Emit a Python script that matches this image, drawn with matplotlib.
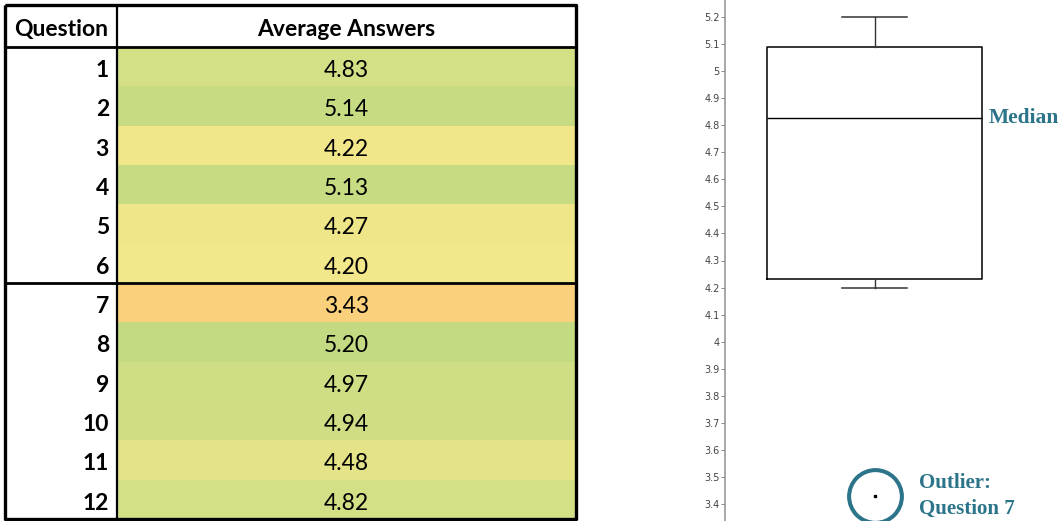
import numpy as np
import matplotlib.pyplot as plt
from matplotlib.colors import LinearSegmentedColormap
from matplotlib.ticker import FixedLocator, FuncFormatter

questions = [1, 2, 3, 4, 5, 6, 7, 8, 9, 10, 11, 12]
averages = [4.83, 5.14, 4.22, 5.13, 4.27, 4.20, 3.43, 5.20, 4.97, 4.94, 4.48, 4.82]
outlier_question = 7
header = ["Question", "Average Answers"]

TEAL = "#2B7489"
W, H = 1064, 521

fig = plt.figure(figsize=(W / 100, H / 100), dpi=100)

# ---- table of averages with a colour scale ----
cmap = LinearSegmentedColormap.from_list(
    "scale", [(0.0, "#FBD07C"), ((4.20 - 3.43) / (5.20 - 3.43), "#F2E78A"), (1.0, "#C4DA82")])
vmin, vmax = min(averages), max(averages)

tab = fig.add_axes([5 / W, 1 - 519 / H, (576 - 5) / W, (519 - 5) / H])
hdr_h = 42 / 39.33
tab.set_xlim(0, 1)
tab.set_ylim(len(questions), -hdr_h)
tab.axis("off")
div = (117 - 5) / 571

rows = np.arange(len(questions))
colors = [cmap((v - vmin) / (vmax - vmin)) for v in averages]
tab.barh(rows + 0.5, 1 - div, height=1, left=div, color=colors, linewidth=0)

font = "Lato"
fs = 16.5
tab.text(div / 2, -hdr_h / 2 + 0.1, header[0], ha="center", va="center",
         fontsize=fs, fontweight="bold", family=font)
tab.text(div + (1 - div) / 2, -hdr_h / 2 + 0.1, header[1], ha="center", va="center",
         fontsize=fs, fontweight="bold", family=font)
for i, (q, v) in enumerate(zip(questions, averages)):
    tab.text(div - 0.014, i + 0.6, str(q), ha="right", va="center",
             fontsize=fs, fontweight="bold", family=font)
    tab.text(div + (1 - div) / 2, i + 0.6, f"{v:.2f}", ha="center", va="center",
             fontsize=fs, family=font)

# grid lines of the table
kw = dict(color="black", solid_capstyle="butt", clip_on=False)
tab.plot([0, 1, 1, 0, 0], [-hdr_h, -hdr_h, 12, 12, -hdr_h], lw=2.4, **kw)
tab.plot([0, 1], [0, 0], lw=2.0, **kw)
tab.plot([0, 1], [6, 6], lw=2.0, **kw)
tab.plot([div, div], [-hdr_h, 12], lw=1.6, **kw)

# ---- box plot ----
vals = np.array(averages)
is_out = np.array(questions) == outlier_question
inliers = vals[~is_out]
q1, med, q3 = np.percentile(vals, [25, 50, 75], method="weibull")
stats = [dict(med=med, q1=q1, q3=q3, whislo=inliers.min(), whishi=inliers.max(),
              fliers=vals[is_out])]

bx = fig.add_axes([725 / W, 0, (W - 725) / W, 1])
bx.set_xlim(0, W - 725)
bx.set_ylim(3.4 - 17 / 270.6, 5.2 + 17 / 270.6)
center, box_w = 874.5 - 725, 215
bx.bxp(stats, positions=[center], widths=[box_w], capwidths=[65],
       boxprops=dict(color="black", lw=1.1),
       medianprops=dict(color="black", lw=1.0),
       whiskerprops=dict(color="#333333", lw=1.0),
       capprops=dict(color="#333333", lw=1.1),
       flierprops=dict(marker="s", markersize=2.0, markerfacecolor="black",
                       markeredgecolor="black"))

ticks = np.round(np.arange(3.4, 5.21, 0.1), 1)
bx.yaxis.set_major_locator(FixedLocator(ticks))
bx.yaxis.set_major_formatter(FuncFormatter(lambda v, p: f"{v:g}"))
bx.tick_params(axis="y", labelsize=7, colors="#444444", length=3, width=0.7,
               color="#888888", pad=1)
bx.set_xticks([])
for s in ["top", "right", "bottom"]:
    bx.spines[s].set_visible(False)
bx.spines["left"].set_color("#999999")
bx.spines["left"].set_linewidth(1.2)

# annotations
bx.text(989 - 725, med, "Median", color=TEAL, fontsize=15.5, fontweight="bold",
        family="Liberation Serif", va="center", ha="left")
bx.plot([center], vals[is_out], marker="o", markersize=38, markerfacecolor="none",
        markeredgecolor=TEAL, markeredgewidth=2.9, clip_on=False)
bx.text(919 - 725, vals[is_out][0], "Outlier:\nQuestion 7", color=TEAL, fontsize=15,
        fontweight="bold", family="Liberation Serif", va="center", ha="left",
        linespacing=1.4)

fig.savefig("out.png", dpi=100)
